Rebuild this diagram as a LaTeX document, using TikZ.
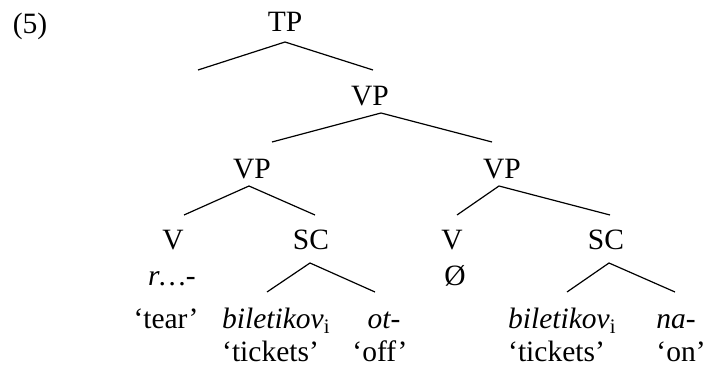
\documentclass[tikz,border=0pt]{standalone}
\usepackage{fontspec}
\setmainfont{Liberation Serif}
\begin{document}
\begin{tikzpicture}[x=1pt,y=-1pt,
  lbl/.style={anchor=base,inner sep=0pt,font=\fontsize{29.5}{35}\selectfont},
  lblw/.style={anchor=base west,inner sep=0pt,font=\fontsize{29.5}{35}\selectfont},
  branch/.style={line width=1.2pt}]
\useasboundingbox (0,0) rectangle (707,366);
% labels
\node[lbl] (ex) at (30,34) {(5)};
\node[lbl] (TP) at (285,32) {TP};
\node[lbl] (VPa) at (370,106) {VP};
\node[lbl] (VPb) at (252,179) {VP};
\node[lbl] (VPc) at (502,179) {VP};
\node[lbl] (V1) at (173,250) {V};
\node[lbl] (SC1) at (311,250) {SC};
\node[lbl] (V2) at (452,250) {V};
\node[lbl] (SC2) at (606,250) {SC};
\node[lbl] (r) at (172,285) {\textit{r…-}};
\node[lbl] (null) at (455,285) {Ø};
\node[lbl] (tear) at (166,328) {‘tear’};
\node[lblw] (bil1) at (222,328) {\textit{biletikov}\textsubscript{i}};
\node[lbl] (ot) at (384,328) {\textit{ot-}};
\node[lblw] (bil2) at (508,328) {\textit{biletikov}\textsubscript{i}};
\node[lbl] (na) at (676,328) {\textit{na-}};
\node[lblw] (tick1) at (222,361) {‘tickets’};
\node[lbl] (off) at (380,361) {‘off’};
\node[lblw] (tick2) at (508,361) {‘tickets’};
\node[lbl] (on) at (681,361) {‘on’};
% branch points
\coordinate (tpT) at (285,42); \coordinate (tpL) at (198,70); \coordinate (tpR) at (373,70);
\coordinate (vaT) at (381,113); \coordinate (vaL) at (272,142); \coordinate (vaR) at (492,142);
\coordinate (vbT) at (249,186); \coordinate (vbL) at (184,215); \coordinate (vbR) at (315,215);
\coordinate (vcT) at (499,186); \coordinate (vcL) at (457,215); \coordinate (vcR) at (610,215);
\coordinate (s1T) at (310,263); \coordinate (s1L) at (267,292); \coordinate (s1R) at (375,292);
\coordinate (s2T) at (609,263); \coordinate (s2L) at (567,292); \coordinate (s2R) at (675,292);
\draw[branch] (tpL) -- (tpT) -- (tpR);
\draw[branch] (vaL) -- (vaT) -- (vaR);
\draw[branch] (vbL) -- (vbT) -- (vbR);
\draw[branch] (vcL) -- (vcT) -- (vcR);
\draw[branch] (s1L) -- (s1T) -- (s1R);
\draw[branch] (s2L) -- (s2T) -- (s2R);
\end{tikzpicture}
\end{document}
